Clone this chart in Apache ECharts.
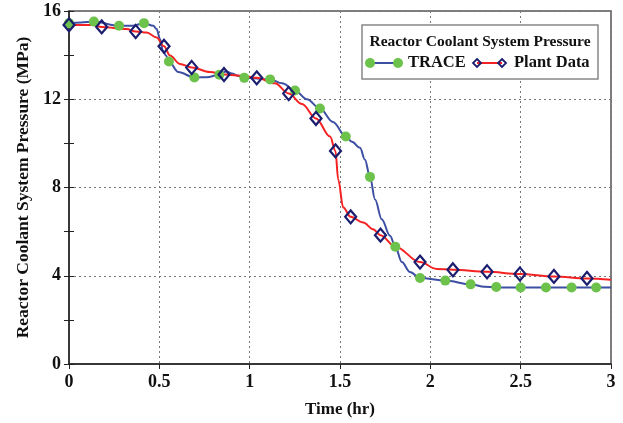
<!DOCTYPE html>
<html>
<head>
<meta charset="utf-8">
<script src="https://cdn.jsdelivr.net/npm/echarts@6/dist/echarts.min.js"></script>
<style>html,body{margin:0;padding:0;background:#fff}#c{width:623px;height:423px}</style>
</head>
<body>
<div id="c"></div>
<script>
// TRACE curve (time hr, pressure MPa)
var traceCurveT = [0, 0.066, 0.138, 0.277, 0.35, 0.415, 0.467, 0.485, 0.504, 0.52, 0.537, 0.553, 0.605, 0.694, 0.762, 0.832, 0.869, 0.902, 0.928, 0.97, 1.113, 1.18, 1.251, 1.317, 1.389, 1.461, 1.532, 1.566, 1.611, 1.638, 1.666, 1.694, 1.731, 1.777, 1.806, 1.842, 1.887, 1.943, 2.083, 2.223, 2.30, 2.365, 2.5, 3.0];
var traceCurveP = [15.45, 15.48, 15.52, 15.33, 15.33, 15.45, 15.33, 15.18, 14.73, 14.2, 13.98, 13.71, 13.23, 12.99, 13.0, 13.11, 13.26, 13.17, 13.08, 12.97, 12.9, 12.72, 12.4, 12.0, 11.58, 10.97, 10.31, 10.07, 9.8, 9.26, 8.48, 7.46, 6.56, 5.81, 5.32, 4.62, 4.17, 3.9, 3.78, 3.61, 3.5, 3.47, 3.47, 3.47];
// TRACE markers
var traceMarkT = [0, 0.138, 0.277, 0.415, 0.553, 0.694, 0.832, 0.97, 1.113, 1.251, 1.389, 1.532, 1.666, 1.806, 1.943, 2.083, 2.223, 2.365, 2.5, 2.64, 2.782, 2.918];
var traceMarkP = [15.45, 15.52, 15.33, 15.45, 13.71, 12.99, 13.11, 12.97, 12.9, 12.4, 11.58, 10.31, 8.48, 5.32, 3.9, 3.78, 3.61, 3.49, 3.47, 3.47, 3.47, 3.47];
// Plant data curve
var plantCurveT = [0, 0.134, 0.181, 0.319, 0.369, 0.43, 0.485, 0.526, 0.559, 0.614, 0.679, 0.78, 0.858, 0.97, 1.039, 1.14, 1.216, 1.29, 1.367, 1.445, 1.475, 1.49, 1.518, 1.559, 1.629, 1.683, 1.724, 1.806, 1.943, 2.035, 2.125, 2.314, 2.496, 2.684, 2.867, 3.0];
var plantCurveP = [15.37, 15.36, 15.28, 15.18, 15.07, 15.02, 14.8, 14.4, 13.98, 13.6, 13.44, 13.23, 13.12, 13.05, 12.97, 12.72, 12.26, 11.78, 11.13, 10.31, 9.66, 8.36, 7.09, 6.67, 6.41, 6.11, 5.84, 5.32, 4.62, 4.31, 4.27, 4.18, 4.08, 3.97, 3.88, 3.82];
// Plant data markers
var plantMarkT = [0, 0.181, 0.369, 0.526, 0.679, 0.858, 1.039, 1.216, 1.367, 1.475, 1.559, 1.724, 1.943, 2.125, 2.314, 2.496, 2.684, 2.867];
var plantMarkP = [15.37, 15.28, 15.07, 14.4, 13.44, 13.12, 12.97, 12.26, 11.13, 9.66, 6.67, 5.84, 4.62, 4.27, 4.18, 4.08, 3.97, 3.88];

var xTicks = [0, 0.5, 1, 1.5, 2, 2.5, 3];
var yTicks = [0, 4, 8, 12, 16];

function pairs(a, b) { return a.map(function (v, i) { return [v, b[i]]; }); }

var FONT = 'Liberation Serif';
var BLUE = '#3d4fa3', RED = '#f42222', GREEN = '#6cc24a', NAVY = '#1b1d6e';

var chart = echarts.init(document.getElementById('c'));
chart.setOption({
  animation: false,
  grid: { left: 69, right: 12, top: 11, bottom: 57, show: true, borderColor: '#555', borderWidth: 1.5 },
  xAxis: {
    type: 'value', min: xTicks[0], max: xTicks[xTicks.length - 1], interval: 0.5,
    name: 'Time (hr)', nameLocation: 'middle', nameGap: 37,
    nameTextStyle: { fontFamily: FONT, fontWeight: 'bold', fontSize: 17, color: '#111' },
    axisLine: { lineStyle: { color: '#222', width: 1.5 } },
    axisTick: { show: true, length: 5, lineStyle: { color: '#222' } },
    axisLabel: { fontFamily: FONT, fontWeight: 'bold', fontSize: 18, color: '#111', margin: 9 },
    splitLine: { show: true, lineStyle: { color: '#777', type: [2, 3], width: 1 } }
  },
  yAxis: [{
    type: 'value', min: yTicks[0], max: yTicks[yTicks.length - 1], interval: 4,
    name: 'Reactor Coolant System Pressure (MPa)', nameLocation: 'middle', nameGap: 37,
    nameTextStyle: { fontFamily: FONT, fontWeight: 'bold', fontSize: 17.5, color: '#111' },
    axisLine: { lineStyle: { color: '#222', width: 1.5 } },
    axisTick: { show: true, length: 5, lineStyle: { color: '#222' } },
    minorTick: { show: true, splitNumber: 2, length: 5, lineStyle: { color: '#222' } },
    axisLabel: { fontFamily: FONT, fontWeight: 'bold', fontSize: 18, color: '#111', margin: 8 },
    splitLine: { show: true, lineStyle: { color: '#777', type: [2, 3], width: 1 } }
  }, {
    type: 'value', min: 0, max: 16, interval: 4, position: 'left', offset: 0,
    axisLine: { show: false },
    axisTick: { show: true, inside: true, length: 5, lineStyle: { color: '#222' } },
    minorTick: { show: true, splitNumber: 2, length: 5, lineStyle: { color: '#222' } },
    axisLabel: { show: false }, splitLine: { show: false }
  }],
  series: [
    { name: 'TRACE', type: 'line', data: pairs(traceCurveT, traceCurveP), showSymbol: false, smooth: 0.35, smoothMonotone: 'x',
      lineStyle: { color: BLUE, width: 2 }, z: 2 },
    { name: 'Plant Data', type: 'line', data: pairs(plantCurveT, plantCurveP), showSymbol: false, smooth: 0.35, smoothMonotone: 'x',
      lineStyle: { color: RED, width: 2 }, z: 3 },
    { name: 'TRACE markers', type: 'scatter', data: pairs(traceMarkT, traceMarkP), symbol: 'circle', symbolSize: 10,
      itemStyle: { color: GREEN, opacity: 1 }, z: 4 },
    { name: 'Plant markers', type: 'scatter', data: pairs(plantMarkT, plantMarkP), symbol: 'diamond', symbolSize: [11, 13],
      itemStyle: { color: 'rgba(255,255,255,0)', borderColor: NAVY, borderWidth: 2.2, opacity: 1 }, z: 5 }
  ],
  graphic: [
    { type: 'rect', shape: { x: 362, y: 25, width: 236, height: 54 }, style: { fill: '#fff', stroke: '#888', lineWidth: 1.5 }, z: 100 },
    { type: 'text', x: 480, y: 42, style: { text: 'Reactor Coolant System Pressure', font: 'bold 15.5px "Liberation Serif"', fill: '#111', textAlign: 'center', textVerticalAlign: 'middle' }, z: 101 },
    { type: 'line', shape: { x1: 370, y1: 63, x2: 398, y2: 63 }, style: { stroke: BLUE, lineWidth: 2 }, z: 101 },
    { type: 'circle', shape: { cx: 370, cy: 63, r: 5 }, style: { fill: GREEN }, z: 102 },
    { type: 'circle', shape: { cx: 398, cy: 63, r: 5 }, style: { fill: GREEN }, z: 102 },
    { type: 'text', x: 408, y: 63, style: { text: 'TRACE', font: 'bold 16.5px "Liberation Serif"', fill: '#111', textVerticalAlign: 'middle' }, z: 101 },
    { type: 'line', shape: { x1: 477, y1: 63, x2: 502, y2: 63 }, style: { stroke: RED, lineWidth: 2 }, z: 101 },
    { type: 'polygon', shape: { points: [[477, 59], [481, 63], [477, 67], [473, 63]] }, style: { fill: 'rgba(255,255,255,0)', stroke: NAVY, lineWidth: 1.8 }, z: 102 },
    { type: 'polygon', shape: { points: [[502, 59], [506, 63], [502, 67], [498, 63]] }, style: { fill: 'rgba(255,255,255,0)', stroke: NAVY, lineWidth: 1.8 }, z: 102 },
    { type: 'text', x: 514, y: 63, style: { text: 'Plant Data', font: 'bold 16.5px "Liberation Serif"', fill: '#111', textVerticalAlign: 'middle' }, z: 101 }
  ]
});
</script>
</body>
</html>
